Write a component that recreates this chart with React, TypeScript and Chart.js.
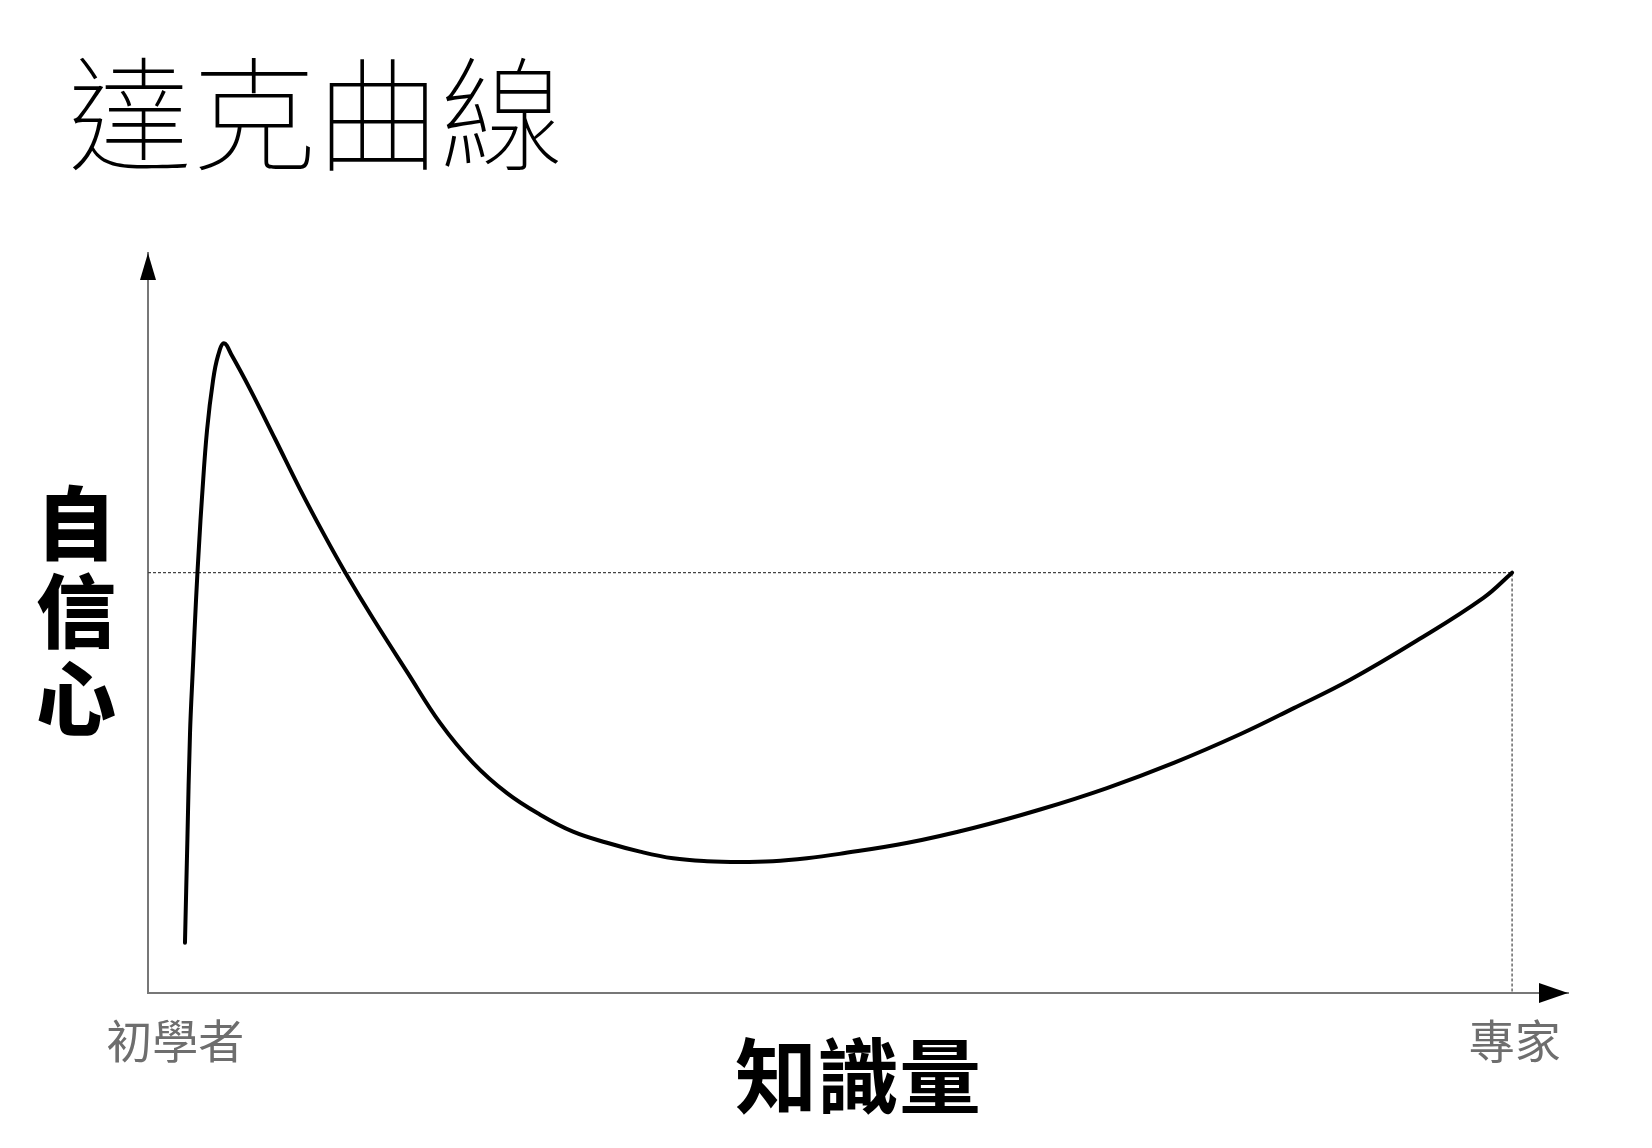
import React, { useEffect, useRef } from "react";
import { Chart, registerables } from "chart.js";

Chart.register(...registerables);

// Knowledge (x, 0 = nothing, 100 = expert) and confidence (y, 0..100)
const knowledge = [
  2.71, 2.89, 3.08, 3.3, 3.52, 3.74, 3.96, 4.33, 4.77, 5.13, 5.57, 6.16, 7.48,
  9.31, 11.14, 12.98, 14.44, 16.5, 18.99, 21.41, 23.83, 26.32, 28.74, 31.16,
  33.65, 36.07, 38.49, 40.98, 43.4, 45.8, 48.3, 50.7, 55.7, 60.5, 65.4, 70.3,
  75.2, 80.1, 84.0, 88.1, 93.0, 97.9, 100,
];
const confidence = [
  6.8, 20.9, 35.1, 44.3, 53.1, 60.5, 67.0, 76.1, 82.8, 86.1, 87.8, 86.1, 81.6,
  74.9, 68.1, 61.7, 56.9, 50.6, 43.4, 36.5, 31.1, 27.0, 24.1, 21.8, 20.3, 19.1,
  18.2, 17.8, 17.7, 17.8, 18.2, 18.8, 20.3, 22.3, 24.8, 27.7, 31.1, 35.0, 38.5,
  42.3, 47.6, 53.4, 56.8,
];

// Guide lines to the expert point
const expertKnowledge = 100;
const expertConfidence = 56.8;

// Axis labels
const xTickValues = [2, 100.2];
const xTickLabels = ["初學者", "專家"];
const titleText = "達克曲線";
const xAxisTitle = "知識量";
const yAxisTitle = ["自", "信", "心"];

const CJK = '"Noto Sans CJK TC", "Noto Sans CJK SC", sans-serif';

const arrowPlugin = {
  id: "axisArrows",
  afterDraw(chart: any) {
    const { ctx, chartArea } = chart;
    ctx.save();
    ctx.fillStyle = "#000";
    const x0 = chartArea.left;
    const y0 = chartArea.top;
    ctx.beginPath();
    ctx.moveTo(x0, y0);
    ctx.lineTo(x0 - 8, y0 + 27);
    ctx.lineTo(x0 + 8, y0 + 27);
    ctx.closePath();
    ctx.fill();
    const x1 = chartArea.right;
    const y1 = chartArea.bottom;
    ctx.beginPath();
    ctx.moveTo(x1, y1);
    ctx.lineTo(x1 - 29, y1 - 10);
    ctx.lineTo(x1 - 29, y1 + 10);
    ctx.closePath();
    ctx.fill();
    ctx.restore();
  },
};

export default function App() {
  const ref = useRef<HTMLCanvasElement | null>(null);

  useEffect(() => {
    if (!ref.current) return;
    const curve = knowledge.map((x, i) => ({ x, y: confidence[i] }));
    const guide = [
      { x: 0, y: expertConfidence },
      { x: expertKnowledge, y: expertConfidence },
      { x: expertKnowledge, y: 0 },
    ];
    const chart = new Chart(ref.current, {
      type: "line",
      data: {
        datasets: [
          {
            data: curve,
            borderColor: "#000",
            borderWidth: 4,
            pointRadius: 0,
            tension: 0.4,
            borderJoinStyle: "round",
            borderCapStyle: "round",
            fill: false,
          },
          {
            data: guide,
            borderColor: "#444",
            borderWidth: 1.2,
            borderDash: [3, 2],
            pointRadius: 0,
            tension: 0,
            fill: false,
          },
        ],
      },
      options: {
        animation: false,
        responsive: false,
        events: [],
        layout: { padding: { left: 0, right: 84, top: 253, bottom: 0 } },
        plugins: { legend: { display: false }, tooltip: { enabled: false }, title: { display: false } },
        scales: {
          x: {
            type: "linear",
            min: 0,
            max: 104.1,
            grid: { display: false },
            border: { display: true, color: "#777", width: 2 },
            afterBuildTicks: (scale: any) => {
              scale.ticks = xTickValues.map((v) => ({ value: v }));
            },
            afterFit: (scale: any) => {
              scale.height = 155;
            },
            ticks: {
              autoSkip: false,
              maxRotation: 0,
              padding: 12,
              color: "#6e6e6e",
              font: { family: CJK, size: 46 },
              callback: (_v: any, i: number) => xTickLabels[i],
            },
            title: {
              display: true,
              text: xAxisTitle,
              color: "#000",
              font: { family: CJK, size: 82, weight: "bold" },
              padding: { top: 0, bottom: 23 },
            },
          },
          y: {
            type: "linear",
            min: 0,
            max: 100,
            grid: { display: false },
            border: { display: true, color: "#777", width: 2 },
            ticks: { display: false },
            afterFit: (scale: any) => {
              scale.width = 148;
            },
          },
        },
      },
      plugins: [arrowPlugin],
    });
    return () => chart.destroy();
  }, []);

  return (
    <div style={{ position: "absolute", left: 0, top: 0, width: 1652, height: 1148, background: "#fff" }}>
      <canvas ref={ref} width={1652} height={1148} style={{ position: "absolute", left: 0, top: 0, width: 1652, height: 1148 }} />
      <div
        style={{
          position: "absolute",
          left: 68,
          top: 45,
          fontFamily: CJK,
          fontWeight: 100,
          fontSize: 124,
          lineHeight: 1,
          color: "#000",
          whiteSpace: "nowrap",
        }}
      >
        {titleText}
      </div>
      <div
        style={{
          position: "absolute",
          left: 36,
          top: 474,
          width: 80,
          textAlign: "center",
          fontFamily: CJK,
          fontWeight: 900,
          fontSize: 80,
          lineHeight: "88px",
          color: "#000",
        }}
      >
        {yAxisTitle.map((c) => (
          <div key={c}>{c}</div>
        ))}
      </div>
    </div>
  );
}
